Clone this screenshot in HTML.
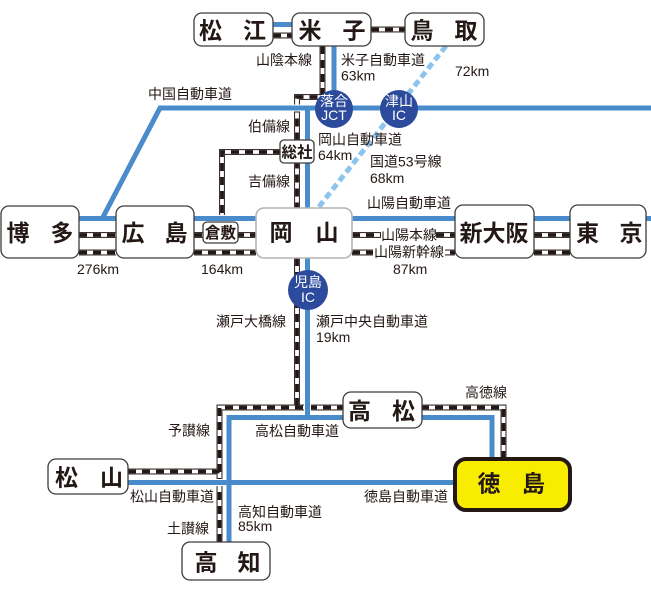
<!DOCTYPE html>
<html><head><meta charset="utf-8"><style>
html,body{margin:0;padding:0;background:#fff;}
svg{display:block;}
text{font-family:"Liberation Sans","Noto Sans CJK JP",sans-serif;fill:#231815;}
.lb{font-size:14px;}
.nd{font-size:23px;font-weight:bold;text-anchor:middle;}
.sm{font-size:15.5px;font-weight:bold;text-anchor:middle;}
.ic{font-size:14px;fill:#fff;text-anchor:middle;}
</style></head><body>
<svg width="651" height="598" viewBox="0 0 651 598" xmlns="http://www.w3.org/2000/svg">
<defs>
<g id="rails" fill="none">
<path d="M273,35.5H292"/>
<path d="M371,29.5H405"/>
<path d="M322.5,46V97H297V208"/>
<path d="M281,152H222V216"/>
<path d="M79,235H116M79,252.5H116"/>
<path d="M194,235H256M194,252.5H256"/>
<path d="M352,235H455M352,252.5H455"/>
<path d="M534,235H570M534,252.5H570"/>
<path d="M297,258V407.5"/>
<path d="M219.5,542V407.5H503.5V457"/>
<path d="M128,471.5H219.5"/>
</g>
<g id="blue" fill="none">
<path d="M273,24.5H292"/>
<path d="M334,46V109"/>
<path d="M102,219L160,108H651"/>
<path d="M79,218.5H651"/>
<path d="M307.5,108V415"/>
<path d="M229,542V417.5H492V457"/>
<path d="M128,482.5H453"/>
</g>
</defs>

<!-- dashed route 53 -->
<path d="M446,46L318,208" stroke="#8dc4ee" stroke-width="5" stroke-dasharray="7 4" fill="none"/>

<!-- rails -->
<use href="#rails" stroke="#3a3230" stroke-width="6" stroke-linejoin="miter"/>
<use href="#rails" stroke="#fff" stroke-width="3.8"/>
<use href="#rails" stroke="#231815" stroke-width="3.8" stroke-dasharray="8 6"/>

<!-- blue highways -->
<use href="#blue" stroke="#fff" stroke-width="7"/>
<use href="#blue" stroke="#4a8ccb" stroke-width="5"/>

<!-- label backgrounds on rails -->
<rect x="381" y="228" width="55" height="14" fill="#fff"/>
<rect x="373" y="245" width="72" height="14" fill="#fff"/>

<!-- nodes -->
<g fill="#fff" stroke="#3c3c3c" stroke-width="1.3">
<rect x="194" y="13" width="79" height="33" rx="8"/>
<rect x="292" y="13" width="79" height="33" rx="8"/>
<rect x="405" y="13" width="79" height="33" rx="8"/>
<rect x="1" y="206" width="78" height="52" rx="8"/>
<rect x="116" y="206" width="78" height="52" rx="8"/>
<rect x="455" y="205" width="79" height="53" rx="8"/>
<rect x="570" y="205" width="76" height="53" rx="8"/>
<rect x="343" y="392" width="79" height="36" rx="8"/>
<rect x="48" y="459" width="80" height="35" rx="8"/>
<rect x="182" y="542" width="88" height="38" rx="8"/>
<rect x="280" y="140" width="34" height="23" rx="4"/>
<rect x="203" y="222" width="35" height="21" rx="4"/>
</g>
<rect x="256" y="208" width="96" height="50" rx="8" fill="#fff" stroke="#b4b4b4" stroke-width="1.6"/>
<rect x="455" y="459" width="115" height="51" rx="11" fill="#f8ec00" stroke="#231815" stroke-width="4"/>

<!-- IC circles -->
<g fill="#2d4b9c">
<circle cx="334" cy="109" r="19"/>
<circle cx="399" cy="109" r="19"/>
<circle cx="308" cy="290" r="20"/>
</g>
<text class="ic" x="334" y="106">落合</text>
<text class="ic" x="334" y="120">JCT</text>
<text class="ic" x="399" y="106">津山</text>
<text class="ic" x="399" y="120">IC</text>
<text class="ic" x="308" y="287">児島</text>
<text class="ic" x="308" y="302">IC</text>

<!-- node text -->
<text class="nd" x="210.5" y="38.5">松</text><text class="nd" x="254.5" y="38.5">江</text>
<text class="nd" x="310" y="38.5">米</text><text class="nd" x="354" y="38.5">子</text>
<text class="nd" x="422" y="38.5">鳥</text><text class="nd" x="466" y="38.5">取</text>
<text class="nd" x="18" y="241">博</text><text class="nd" x="62" y="241">多</text>
<text class="nd" x="133" y="241">広</text><text class="nd" x="176" y="241">島</text>
<text class="nd" x="281" y="240.5">岡</text><text class="nd" x="327" y="240.5">山</text>
<text class="nd" x="494" y="241">新大阪</text>
<text class="nd" x="587.5" y="241">東</text><text class="nd" x="631" y="241">京</text>
<text class="nd" x="359.5" y="419">高</text><text class="nd" x="403.5" y="419">松</text>
<text class="nd" x="66.5" y="485.5">松</text><text class="nd" x="111.5" y="485.5">山</text>
<text class="nd" x="206" y="570.5">高</text><text class="nd" x="249" y="570.5">知</text>
<text class="nd" x="489" y="491.5">徳</text><text class="nd" x="533.5" y="491.5">島</text>
<text class="sm" x="297" y="157.5">総社</text>
<text class="sm" x="220.5" y="238">倉敷</text>

<!-- labels -->
<text class="lb" x="312" y="65" text-anchor="end">山陰本線</text>
<text class="lb" x="341" y="65">米子自動車道</text>
<text class="lb" x="341" y="80.5">63km</text>
<text class="lb" x="455" y="76">72km</text>
<text class="lb" x="148" y="99">中国自動車道</text>
<text class="lb" x="290" y="131.5" text-anchor="end">伯備線</text>
<text class="lb" x="318" y="144.5">岡山自動車道</text>
<text class="lb" x="318" y="160">64km</text>
<text class="lb" x="370" y="166.5">国道53号線</text>
<text class="lb" x="370" y="183">68km</text>
<text class="lb" x="290" y="186.5" text-anchor="end">吉備線</text>
<text class="lb" x="367" y="208">山陽自動車道</text>
<text class="lb" x="381" y="240">山陽本線</text>
<text class="lb" x="374" y="257">山陽新幹線</text>
<text class="lb" x="393" y="274">87km</text>
<text class="lb" x="77" y="274">276km</text>
<text class="lb" x="201" y="274">164km</text>
<text class="lb" x="286" y="326.5" text-anchor="end">瀬戸大橋線</text>
<text class="lb" x="316" y="326.5">瀬戸中央自動車道</text>
<text class="lb" x="316" y="342">19km</text>
<text class="lb" x="465" y="397.5">高徳線</text>
<text class="lb" x="210" y="435.5" text-anchor="end">予讃線</text>
<text class="lb" x="255" y="436">高松自動車道</text>
<text class="lb" x="130" y="501.5">松山自動車道</text>
<text class="lb" x="209" y="533.5" text-anchor="end">土讃線</text>
<text class="lb" x="238" y="517">高知自動車道</text>
<text class="lb" x="238" y="531">85km</text>
<text class="lb" x="448" y="501.5" text-anchor="end">徳島自動車道</text>
</svg>
</body></html>
